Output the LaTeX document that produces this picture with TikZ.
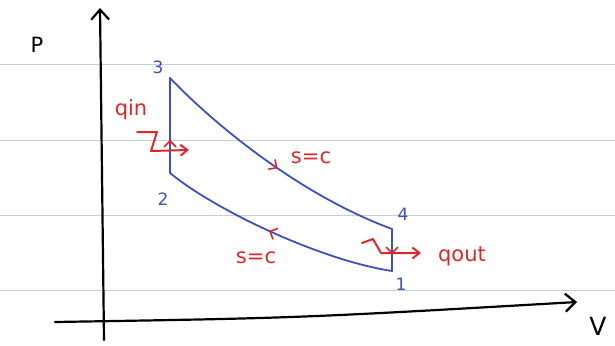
\documentclass[tikz,border=0pt]{standalone}
\usepackage{fontspec}
\setmainfont{DejaVu Sans}
\definecolor{penblue}{RGB}{60,80,190}
\definecolor{penred}{RGB}{220,40,40}
\definecolor{ruled}{RGB}{196,206,220}
\usetikzlibrary{arrows.meta,decorations.markings}

\begin{document}
\begin{tikzpicture}[x=1pt, y=-1pt, every node/.style={font=\fontsize{21}{23}\selectfont},
  ink/.style={line width=1.8pt, line cap=round, line join=round},
  blueline/.style={ink, penblue},
  redline/.style={ink, penred, line width=2pt},
  barb/.style={-{Straight Barb[length=7pt,width=11pt]}},
  flow/.style={postaction={decorate}, decoration={markings,
    mark=at position #1 with {\arrow[penred, line width=1.6pt]{Straight Barb[length=6pt,width=12pt]}}}}]
\useasboundingbox (0,0) rectangle (615,345);
% Ruled paper
\foreach \y in {64,140,215,290} {
  \draw[ruled, line width=1pt] (0,\y) -- (615,\y);
}
% Axes
\coordinate (ybot) at (104,340);
\coordinate (ytop) at (100,8);
\coordinate (xleft) at (55,322);
\coordinate (xright) at (577,302);
\draw[ink, line width=2.2pt, -{Straight Barb[length=10pt,width=18pt]}] (ybot) -- (ytop);
\draw[ink, line width=2.2pt, -{Straight Barb[length=10pt,width=18pt]}] (xleft) .. controls (300,318) .. (xright);
\node (P) at (37,45) {P};
\node[font=\fontsize{25}{27}\selectfont] (V) at (598,326) {V};
% States
\coordinate (s1) at (392,271);
\coordinate (s2) at (170,173);
\coordinate (s3) at (170,78);
\coordinate (s4) at (392,229);
\node[penblue, font=\fontsize{17}{19}\selectfont] (n1) at (401,284) {1};
\node[penblue, font=\fontsize{17}{19}\selectfont] (n2) at (163,199) {2};
\node[penblue, font=\fontsize{17}{19}\selectfont] (n3) at (158,67) {3};
\node[penblue, font=\fontsize{17}{19}\selectfont] (n4) at (403,214) {4};
% Cycle
\draw[blueline, flow=0.35] (s2) -- (s3);
\draw[blueline, flow=0.52] (s3) .. controls (215,125) and (300,195) .. (s4);
\draw[blueline, flow=0.6] (s4) -- (s1);
\draw[blueline, flow=0.53] (s1) .. controls (320,260) and (215,210) .. (s2);
% Heat in and out
\node[penred] (qin) at (131,110) {qin};
\coordinate (qinstart) at (137,132);
\draw[redline, barb] (qinstart) -- ++(20,0) -- ++(-6,19) -- ++(38,-1);
\node[penred] (qout) at (462,256) {qout};
\coordinate (qoutstart) at (362,243);
\draw[redline, barb] (qoutstart) -- ++(11,-4) -- ++(8,14) -- ++(40,0);
% Isentropes
\node[penred] (s34) at (311,158) {s=c};
\node[penred] (s12) at (256,258) {s=c};
\end{tikzpicture}
\end{document}
